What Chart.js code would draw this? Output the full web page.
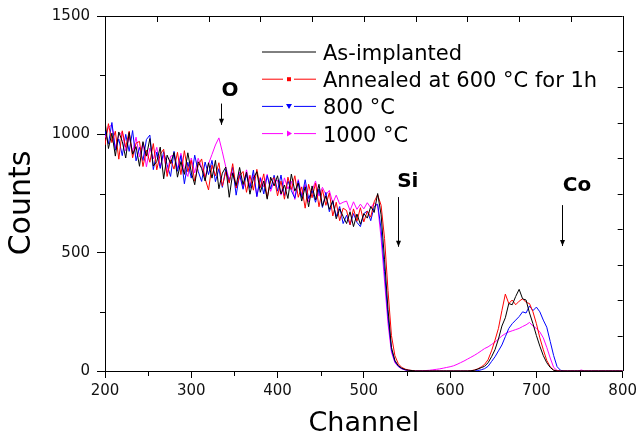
<!DOCTYPE html>
<html><head><meta charset="utf-8">
<script src="https://cdn.jsdelivr.net/npm/chart.js@4/dist/chart.umd.min.js"></script>
<style>html,body{margin:0;padding:0;background:#fff}</style>
</head><body>
<canvas id="c" width="641" height="440"></canvas>
<script>
const channels = [200,204,208,212,216,220,224,228,232,236,240,244,248,252,256,260,264,268,272,276,
280,284,288,292,296,300,304,308,312,316,320,324,328,332,336,340,344,348,352,356,
360,364,368,372,376,380,384,388,392,396,400,404,408,412,416,420,424,428,432,436,
440,444,448,452,456,460,464,468,472,476,480,484,488,492,496,500,504,508,512,516,
520,524,528,532,536,540,544,548,552,556,560,564,568,572,576,580,584,588,592,596,
600,604,608,612,616,620,624,628,632,636,640,644,648,652,656,660,664,668,672,676,
680,684,688,692,696,700,704,708,712,716,720,724,728,732,736,740,744,748,752,756,
760,764,768,772,776,780,784,788,792,796,800];

const asImplanted = [1055,940,1005,908,1010,970,900,1008,916,948,
865,969,908,982,866,885,946,812,912,877,
923,819,885,831,922,840,787,884,856,803,
880,815,890,770,836,862,734,836,783,860,
788,840,747,814,842,755,803,726,819,782,
825,748,786,729,832,760,794,718,778,694,
782,723,789,696,740,683,720,643,685,653,
623,673,610,663,620,665,646,695,670,750,
660,470,260,100,45,22,12,6,3,2,
0,0,0,0,0,0,0,0,0,0,
0,0,0,0,0,0,1,3,8,14,
20,35,60,90,135,190,225,285,280,315,
345,305,300,245,200,150,105,65,35,15,
3,0,0,0,0,0,0,0,0,0,
0,0,0,0,0,0,0,0,0,0,0];

const annealed600 = [955,1045,965,1013,895,1015,945,1013,901,963,
970,864,933,882,961,850,916,937,822,892,
853,924,830,931,842,890,802,869,896,813,
765,870,825,880,781,842,794,876,773,825,
843,755,827,764,852,775,833,731,804,817,
740,803,726,819,767,825,734,778,688,789,
732,793,694,766,700,753,655,713,635,688,
678,618,685,633,690,630,676,650,715,745,
700,560,340,150,65,30,15,8,4,2,
0,0,0,0,0,0,0,0,0,0,
0,0,0,0,0,0,1,4,9,17,
28,48,85,130,180,255,325,285,300,280,
295,305,290,285,250,200,140,90,45,18,
4,1,0,0,0,0,0,0,0,0,
0,0,0,0,0,0,0,0,0,0,0];

const annealed800 = [1015,960,1050,933,980,910,1000,928,1016,888,
945,889,978,997,851,925,856,927,872,822,
928,844,910,791,882,815,912,844,801,883,
830,890,800,855,776,852,799,861,743,830,
768,830,772,849,737,815,748,826,769,827,
760,828,741,804,762,730,804,733,808,729,
762,713,769,691,755,673,715,653,695,623,
658,618,665,628,610,665,676,635,695,705,
600,420,230,90,40,20,10,5,3,1,
0,0,0,0,0,0,0,0,0,0,
0,0,0,0,0,0,0,0,2,5,
10,20,40,60,85,110,145,180,200,215,
230,250,245,275,255,270,250,215,185,125,
65,18,3,0,0,0,0,0,0,0,
0,0,0,0,0,0,0,0,0,0,0];

const annealed1000 = [985,1030,1040,943,995,1010,930,988,926,988,
905,964,863,942,896,945,866,912,837,907,
913,854,920,851,822,900,837,899,861,818,
875,915,955,985,926,862,809,841,773,840,
773,850,782,829,737,820,778,831,759,802,
805,743,816,769,802,725,809,743,788,714,
762,803,739,776,745,763,710,743,705,713,
718,678,715,683,705,685,711,690,710,700,
560,380,200,80,35,18,9,4,2,1,
0,0,1,2,3,5,7,9,12,15,
18,22,28,35,42,50,58,66,75,85,
95,102,112,122,135,148,158,165,170,175,
180,188,195,205,190,180,165,140,100,55,
15,2,0,0,0,0,0,0,4,0,
0,0,0,0,0,0,0,0,0,0,0];

const seriesLabels = ['As-implanted','Annealed at 600 °C for 1h','800 °C','1000 °C'];
const seriesColors = ['#000000','#ff0000','#0000ff','#ff00ff'];
const markers = ['none','square','triangleDown','triangleRight'];
const xTitle = 'Channel';
const yTitle = 'Counts';
const annotations = [
  {text:'O', x:345, y:1183, arrowX:335, arrowTop:1130, arrowBottom:1040},
  {text:'Si', x:551, y:798, arrowX:540, arrowTop:735, arrowBottom:525},
  {text:'Co', x:747, y:782, arrowX:730, arrowTop:701, arrowBottom:528}
];

const toPts = v => channels.map((c,i)=>({x:c,y:v[i]}));
const allSeries = [asImplanted, annealed600, annealed800, annealed1000];

const framePlugin = {
  id:'framePlugin',
  afterDraw(chart){
    const {ctx, chartArea:a, scales:{x,y}} = chart;
    ctx.save();
    ctx.strokeStyle = '#000'; ctx.lineWidth = 1;
    ctx.beginPath();
    ctx.moveTo(a.left, Math.round(a.top)+0.5); ctx.lineTo(a.right, Math.round(a.top)+0.5);
    ctx.moveTo(Math.round(a.right)+0.5, a.top); ctx.lineTo(Math.round(a.right)+0.5, a.bottom);
    for (let v=250; v<800; v+=100){ const px=Math.round(x.getPixelForValue(v))+0.5; ctx.moveTo(px,a.bottom); ctx.lineTo(px,a.bottom+5); }
    for (let v=250; v<1500; v+=500){ const py=Math.round(y.getPixelForValue(v))+0.5; ctx.moveTo(a.left,py); ctx.lineTo(a.left-5,py); }
    for (let v=260; v<800; v+=60){ const px=Math.round(x.getPixelForValue(v))+0.5; ctx.moveTo(px,a.top); ctx.lineTo(px,a.top+6); }
    for (let v=150; v<1500; v+=150){ const py=Math.round(y.getPixelForValue(v))+0.5; ctx.moveTo(a.right,py); ctx.lineTo(a.right-5,py); }
    ctx.stroke();

    // y title
    ctx.save();
    ctx.translate(22, 203);
    ctx.rotate(-Math.PI/2);
    ctx.font = '30px "DejaVu Sans"';
    ctx.fillStyle = '#000';
    ctx.textAlign = 'center'; ctx.textBaseline = 'middle';
    ctx.fillText(yTitle, 0, 0);
    ctx.restore();

    // legend
    ctx.font = '21px "DejaVu Sans"';
    ctx.textBaseline = 'alphabetic';
    ctx.textAlign = 'left';
    seriesLabels.forEach((lab,i)=>{
      const ly = 52 + i*27.2;
      const x0 = 262, x1 = 316, mx = 289;
      ctx.strokeStyle = seriesColors[i]; ctx.fillStyle = seriesColors[i];
      ctx.lineWidth = 1;
      ctx.beginPath();
      if (markers[i]==='none'){ ctx.moveTo(x0,ly); ctx.lineTo(x1,ly); }
      else { ctx.moveTo(x0,ly); ctx.lineTo(mx-6,ly); ctx.moveTo(mx+5,ly); ctx.lineTo(x1,ly); }
      ctx.stroke();
      ctx.beginPath();
      if (markers[i]==='square'){ ctx.rect(mx-2,ly-2,4,4); }
      else if (markers[i]==='triangleDown'){ ctx.moveTo(mx-3,ly-2.5); ctx.lineTo(mx+3,ly-2.5); ctx.lineTo(mx,ly+2.5); ctx.closePath(); }
      else if (markers[i]==='triangleRight'){ ctx.moveTo(mx-2,ly-3); ctx.lineTo(mx+3,ly); ctx.lineTo(mx-2,ly+3); ctx.closePath(); }
      ctx.fill();
      ctx.fillStyle = '#000';
      ctx.fillText(lab, 323, ly+8);
    });

    // annotations
    ctx.font = 'bold 20px "DejaVu Sans"';
    ctx.textAlign = 'center'; ctx.textBaseline = 'middle';
    annotations.forEach(an=>{
      ctx.fillStyle = '#000';
      ctx.fillText(an.text, x.getPixelForValue(an.x), y.getPixelForValue(an.y));
      const ax = Math.round(x.getPixelForValue(an.arrowX))+0.5;
      const t = y.getPixelForValue(an.arrowTop), b = y.getPixelForValue(an.arrowBottom);
      ctx.strokeStyle = '#000'; ctx.lineWidth = 1;
      ctx.beginPath(); ctx.moveTo(ax,t); ctx.lineTo(ax,b); ctx.stroke();
      ctx.beginPath(); ctx.moveTo(ax-2.5,b-6); ctx.lineTo(ax+2.5,b-6); ctx.lineTo(ax,b); ctx.closePath(); ctx.fill();
    });
    ctx.restore();
  }
};

new Chart(document.getElementById('c'), {
  type:'line',
  data:{ datasets: allSeries.map((s,i)=>({
    label: seriesLabels[i], data: toPts(s), borderColor: seriesColors[i], backgroundColor: seriesColors[i],
    borderWidth: 1, pointRadius: 0, tension: 0, fill: false
  }))},
  options:{
    responsive:false, animation:false, devicePixelRatio:1,
    layout:{padding:{left:0, top:16, right:15, bottom:0}},
    plugins:{legend:{display:false}, tooltip:{enabled:false}},
    scales:{
      x:{type:'linear', min:200, max:800,
        afterFit(s){ s.height = 69; },
        ticks:{stepSize:100, maxRotation:0, autoSkip:false, color:'#111', padding:4, font:{family:'DejaVu Sans', size:15}, callback:v=>String(v)},
        grid:{display:true, drawOnChartArea:false, drawTicks:true, tickLength:7, color:'#000'},
        border:{display:true, color:'#000', width:1},
        title:{display:true, text:xTitle, color:'#000', font:{family:'DejaVu Sans', size:27}, padding:{top:0, bottom:0}}
      },
      y:{type:'linear', min:0, max:1500,
        afterFit(s){ s.width = 105; },
        ticks:{stepSize:500, color:'#111', padding:7, font:{family:'DejaVu Sans', size:15}, callback:v=>String(v)},
        grid:{display:true, drawOnChartArea:false, drawTicks:true, tickLength:8, color:'#000'},
        border:{display:true, color:'#000', width:1},
        title:{display:false}
      }
    }
  },
  plugins:[framePlugin]
});
</script>
</body></html>
